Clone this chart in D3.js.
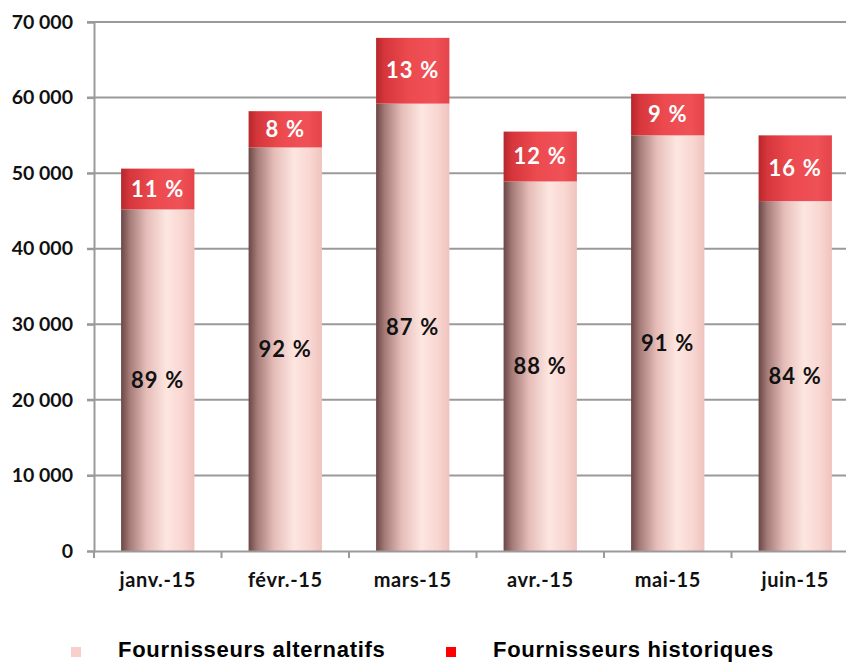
<!DOCTYPE html>
<html>
<head>
<meta charset="utf-8">
<script src="https://cdn.jsdelivr.net/npm/d3@7"></script>
<style>
  body { margin: 0; background: #fff; }
  svg { display: block; }
</style>
</head>
<body>
<div id="chart"></div>
<script>
const width = 846;
const height = 662;

// data
const months = ["janv.-15", "févr.-15", "mars-15", "avr.-15", "mai-15", "juin-15"];
const alternatifs = [45200, 53400, 59200, 48900, 55000, 46300];
const historiques = [5400, 4800, 8700, 6600, 5500, 8700];
const labelsAlt = ["89 %", "92 %", "87 %", "88 %", "91 %", "84 %"];
const labelsHist = ["11 %", "8 %", "13 %", "12 %", "9 %", "16 %"];
const yTicks = [0, 10000, 20000, 30000, 40000, 50000, 60000, 70000];
const legendNames = ["Fournisseurs alternatifs", "Fournisseurs historiques"];

const margin = { top: 22, left: 94, bottom: 111 };
const plotRight = 859;
const labelFont = "Lato, 'Open Sans', sans-serif";

const x = d3.scaleBand()
  .domain(months)
  .range([margin.left, plotRight])
  .paddingInner(0.425)
  .paddingOuter(0.2125);

const y = d3.scaleLinear()
  .domain([0, 70000])
  .range([height - margin.bottom, margin.top]);

const svg = d3.select("#chart").append("svg")
  .attr("width", width)
  .attr("height", height);

// gradients
const defs = svg.append("defs");
const gAlt = defs.append("linearGradient").attr("id", "gAlt")
  .attr("x1", "0%").attr("x2", "100%").attr("y1", "0%").attr("y2", "0%");
[[0, "#6a4644"], [0.12, "#a57c79"], [0.35, "#e6bdb8"], [0.62, "#fde6e1"], [0.85, "#f9d5d0"], [1, "#efc3be"]]
  .forEach(s => gAlt.append("stop").attr("offset", s[0]).attr("stop-color", s[1]));
const gHist = defs.append("linearGradient").attr("id", "gHist")
  .attr("x1", "0%").attr("x2", "100%").attr("y1", "0%").attr("y2", "0%");
[[0, "#b7262b"], [0.12, "#d6373c"], [0.45, "#ec4a4f"], [0.8, "#ef5157"], [1, "#e4444a"]]
  .forEach(s => gHist.append("stop").attr("offset", s[0]).attr("stop-color", s[1]));

// gridlines
svg.append("g")
  .selectAll("line")
  .data(yTicks.filter(d => d > 0))
  .join("line")
  .attr("x1", margin.left - 7)
  .attr("x2", width)
  .attr("y1", d => y(d))
  .attr("y2", d => y(d))
  .attr("stroke", "#9a9a9a")
  .attr("stroke-width", 2);

// y axis
const yAxis = svg.append("g")
  .attr("transform", `translate(${margin.left},0)`)
  .call(d3.axisLeft(y).tickValues(yTicks).tickSize(7).tickPadding(14)
    .tickFormat(d => d3.format(",")(d).replace(/,/g, " ")));
yAxis.select(".domain").attr("stroke", "#9a9a9a").attr("stroke-width", 2);
yAxis.selectAll(".tick line").attr("stroke", "#9a9a9a").attr("stroke-width", 2);
yAxis.selectAll("text")
  .attr("font-family", labelFont)
  .attr("font-weight", "bold")
  .attr("font-size", "19.5px")
  .attr("fill", "#111");

// bars
const bars = svg.append("g").selectAll("g")
  .data(months)
  .join("g");

bars.append("rect")
  .attr("x", d => x(d))
  .attr("width", x.bandwidth())
  .attr("y", (d, i) => y(alternatifs[i]))
  .attr("height", (d, i) => y(0) - y(alternatifs[i]))
  .attr("fill", "url(#gAlt)");

bars.append("rect")
  .attr("x", d => x(d))
  .attr("width", x.bandwidth())
  .attr("y", (d, i) => y(alternatifs[i] + historiques[i]))
  .attr("height", (d, i) => y(alternatifs[i]) - y(alternatifs[i] + historiques[i]))
  .attr("fill", "url(#gHist)");

bars.append("text")
  .attr("x", d => x(d) + x.bandwidth() / 2)
  .attr("y", (d, i) => (y(0) + y(alternatifs[i])) / 2)
  .attr("dy", "0.35em")
  .attr("text-anchor", "middle")
  .attr("font-family", labelFont)
  .attr("font-weight", "bold")
  .attr("font-size", "22px")
  .attr("letter-spacing", "1.2px")
  .attr("fill", "#111")
  .text((d, i) => labelsAlt[i]);

bars.append("text")
  .attr("x", d => x(d) + x.bandwidth() / 2)
  .attr("y", (d, i) => (y(alternatifs[i]) + y(alternatifs[i] + historiques[i])) / 2)
  .attr("dy", "0.35em")
  .attr("text-anchor", "middle")
  .attr("font-family", labelFont)
  .attr("font-weight", "bold")
  .attr("font-size", "22px")
  .attr("letter-spacing", "1.2px")
  .attr("fill", "#fff")
  .text((d, i) => labelsHist[i]);

// x axis
const xAxis = svg.append("g")
  .attr("transform", `translate(0,${y(0)})`)
  .call(d3.axisBottom(x).tickSize(0).tickPadding(22));
xAxis.select(".domain").attr("stroke", "#9a9a9a").attr("stroke-width", 2);
xAxis.selectAll("text")
  .attr("font-family", labelFont)
  .attr("font-weight", "bold")
  .attr("font-size", "20px")
  .attr("letter-spacing", "0.6px")
  .attr("fill", "#111");
// category boundary ticks
svg.append("g").selectAll("line")
  .data(d3.range(months.length + 1))
  .join("line")
  .attr("x1", i => margin.left + x.step() * i)
  .attr("x2", i => margin.left + x.step() * i)
  .attr("y1", y(0))
  .attr("y2", y(0) + 7)
  .attr("stroke", "#9a9a9a")
  .attr("stroke-width", 2);

// legend
const legendX = [71, 446];
const legendColors = ["#f7cfcb", "#ff0000"];
const legend = svg.append("g").selectAll("g")
  .data(legendNames)
  .join("g")
  .attr("transform", (d, i) => `translate(${legendX[i]},647)`);
legend.append("rect")
  .attr("width", 10).attr("height", 10)
  .attr("fill", (d, i) => legendColors[i]);
legend.append("text")
  .attr("x", 47)
  .attr("y", 10)
  .attr("font-family", "'Liberation Sans', Arial, sans-serif")
  .attr("font-weight", "bold")
  .attr("font-size", "22px")
  .attr("letter-spacing", "0.7px")
  .attr("fill", "#000")
  .text(d => d);
</script>
</body>
</html>
